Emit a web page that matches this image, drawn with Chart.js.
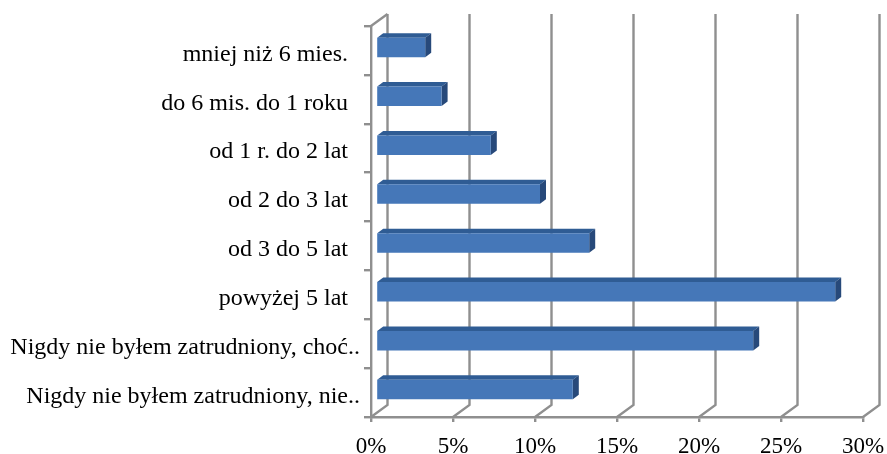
<!DOCTYPE html>
<html>
<head>
<meta charset="utf-8">
<script src="https://cdn.jsdelivr.net/npm/chart.js@4"></script>
<style>
html, body { margin: 0; padding: 0; background: #fff; }
canvas { display: block; }
</style>
</head>
<body>
<canvas id="chart" width="887" height="454"></canvas>
<script>
const categories = [
    "mniej niż 6 mies.  ",
    "do 6 mis. do 1 roku  ",
    "od 1 r. do 2 lat  ",
    "od 2 do 3 lat  ",
    "od 3 do 5 lat  ",
    "powyżej 5 lat  ",
    "Nigdy nie byłem zatrudniony, choć..",
    "Nigdy nie byłem zatrudniony, nie.."
];
const values = [3, 4, 7, 10, 13, 28, 23, 12];

const gridColor = "#8f8f8f";
const serif = "'Liberation Serif', 'Times New Roman', serif";

// back wall of the 3D look, hung off the real scales
const wallDepth = { x: 16.5, y: 12 };
const barShift = { x: 5, y: -3 };
const barDepth = { x: 6, y: 4.5 };

const walls = {
    id: "walls",
    beforeDatasetsDraw(chart) {
        const { ctx, chartArea, scales } = chart;
        ctx.save();
        ctx.strokeStyle = gridColor;
        ctx.lineWidth = 2.4;
        scales.x.ticks.forEach(function (t) {
            const x = scales.x.getPixelForValue(t.value);
            ctx.beginPath();
            ctx.moveTo(x, chartArea.bottom);
            ctx.lineTo(x + wallDepth.x, chartArea.bottom - wallDepth.y);
            ctx.lineTo(x + wallDepth.x, chartArea.top - wallDepth.y);
            ctx.stroke();
        });
        ctx.beginPath();
        ctx.moveTo(chartArea.left, chartArea.top);
        ctx.lineTo(chartArea.left + wallDepth.x, chartArea.top - wallDepth.y);
        ctx.stroke();
        ctx.restore();
    }
};

const bars3d = {
    id: "bars3d",
    beforeDatasetDraw(chart, args) {
        const ctx = chart.ctx;
        ctx.save();
        ctx.translate(barShift.x, barShift.y);
        args.meta.data.forEach(function (bar) {
            const top = bar.y - bar.height / 2;
            const bottom = bar.y + bar.height / 2;
            ctx.fillStyle = "#2f5c94";
            ctx.beginPath();
            ctx.moveTo(bar.base, top);
            ctx.lineTo(bar.base + barDepth.x, top - barDepth.y);
            ctx.lineTo(bar.x + barDepth.x, top - barDepth.y);
            ctx.lineTo(bar.x, top);
            ctx.closePath();
            ctx.fill();
            ctx.fillStyle = "#27497a";
            ctx.beginPath();
            ctx.moveTo(bar.x, top);
            ctx.lineTo(bar.x + barDepth.x, top - barDepth.y);
            ctx.lineTo(bar.x + barDepth.x, bottom - barDepth.y);
            ctx.lineTo(bar.x, bottom);
            ctx.closePath();
            ctx.fill();
        });
    },
    afterDatasetDraw(chart) {
        chart.ctx.restore();
    }
};

new Chart(document.getElementById("chart"), {
    type: "bar",
    plugins: [walls, bars3d],
    data: {
        labels: categories,
        datasets: [{
            data: values,
            backgroundColor: "#4577b8",
            borderWidth: 0,
            barPercentage: 0.8,
            categoryPercentage: 0.5
        }]
    },
    options: {
        indexAxis: "y",
        responsive: false,
        animation: false,
        layout: { padding: { top: 26, right: 24, left: 0, bottom: 0 } },
        plugins: { legend: { display: false }, tooltip: { enabled: false } },
        scales: {
            x: {
                min: 0,
                max: 30,
                afterFit(scale) {
                    scale.height = 37;
                    scale.paddingLeft = 0;
                    scale.paddingRight = 0;
                },
                border: { color: gridColor, width: 2.4 },
                grid: { drawOnChartArea: false, color: gridColor, lineWidth: 2.4, tickLength: 5 },
                ticks: {
                    stepSize: 5,
                    maxRotation: 0,
                    padding: 11,
                    color: "#000",
                    font: { family: serif, size: 23 },
                    callback: function (v) { return v + "%"; }
                }
            },
            y: {
                afterFit(scale) { scale.width = 371; },
                border: { color: gridColor, width: 2.4 },
                grid: { drawOnChartArea: false, color: gridColor, lineWidth: 2.4, tickLength: 7 },
                ticks: {
                    autoSkip: false,
                    padding: 4,
                    labelOffset: 4,
                    color: "#000",
                    font: { family: serif, size: 24 }
                }
            }
        }
    }
});
</script>
</body>
</html>
